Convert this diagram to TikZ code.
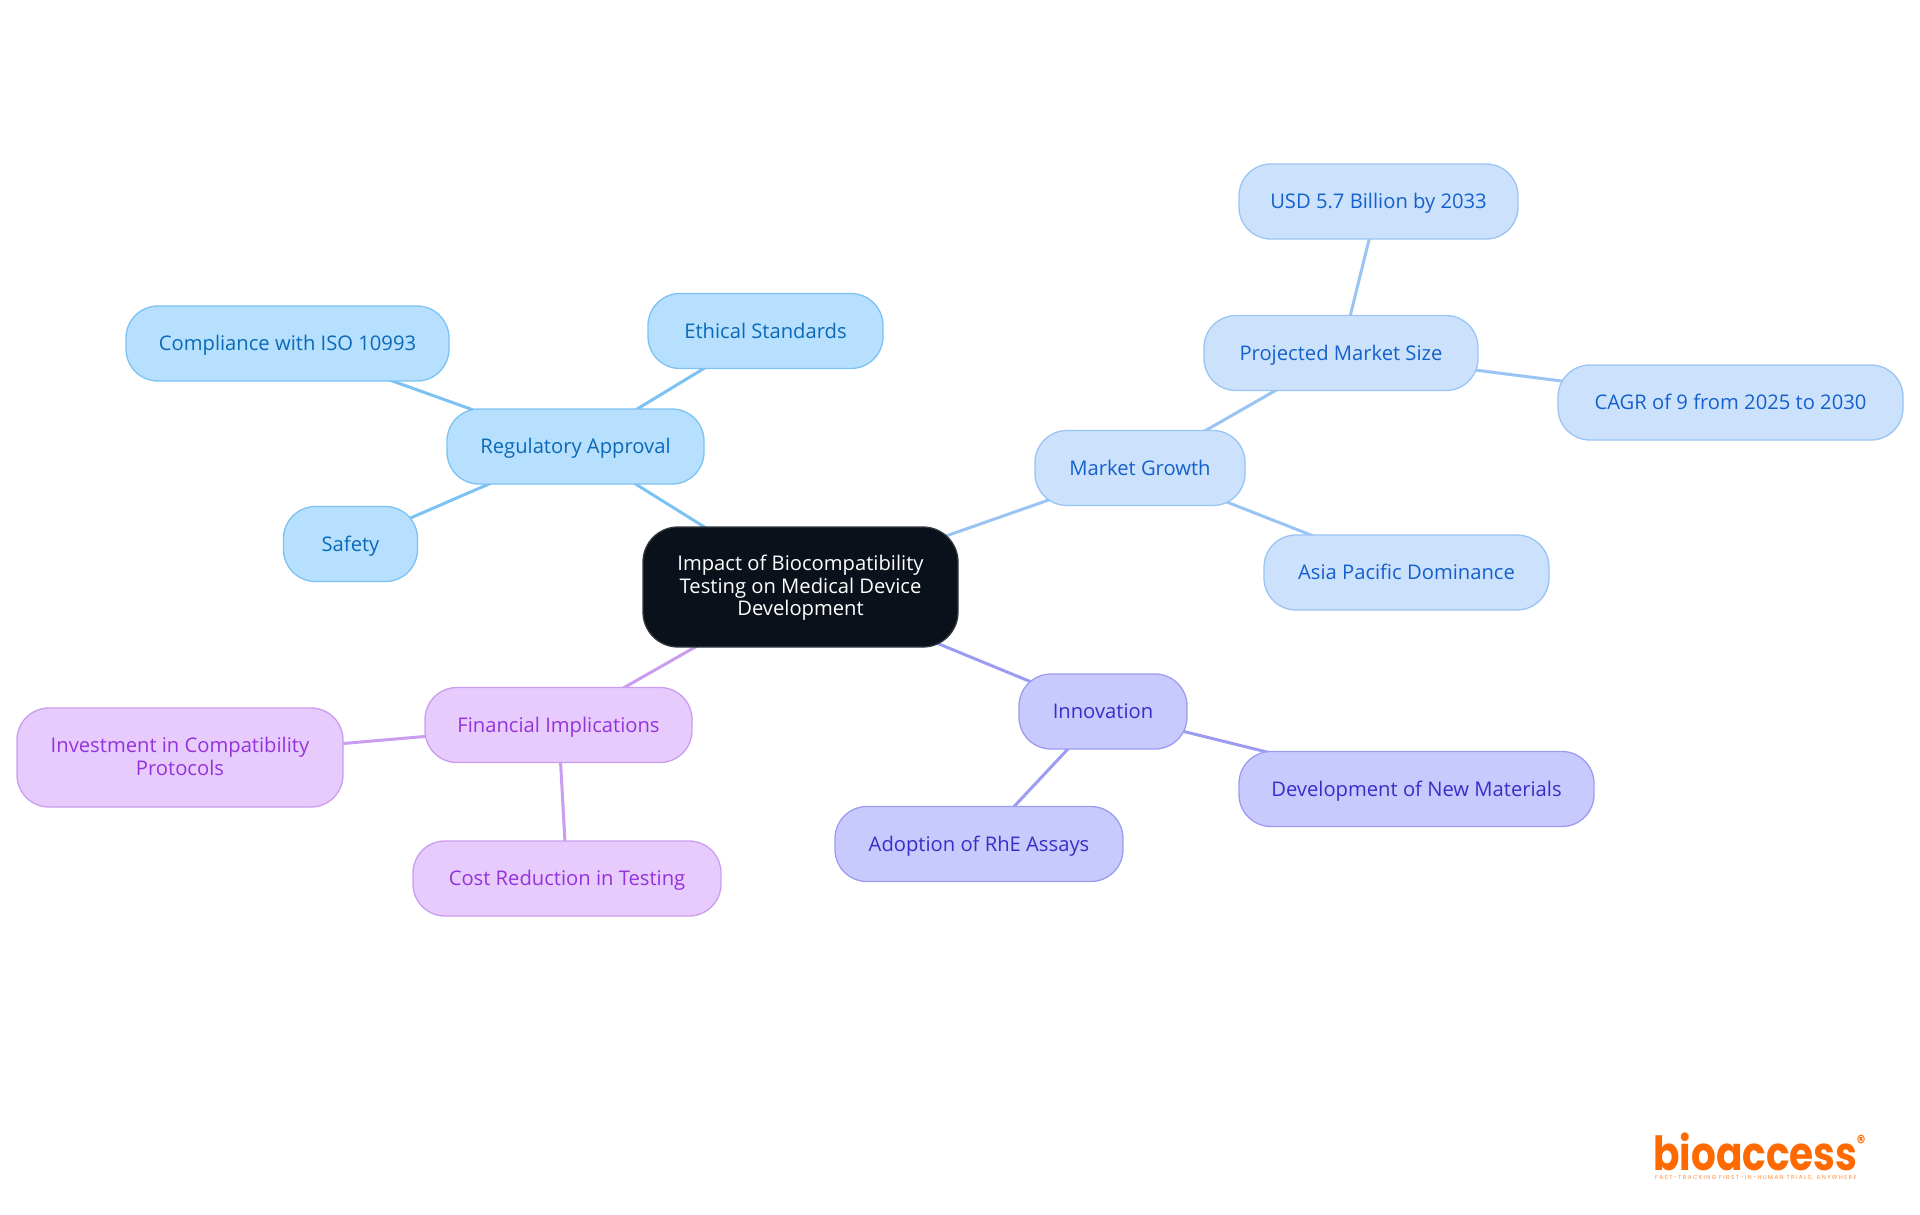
\documentclass[tikz,border=0pt]{standalone}
\usepackage{fontspec}
\setmainfont{Open Sans}
\newfontfamily\logofont[FakeStretch=0.83]{Poppins}
\newfontfamily\tagfont[LetterSpace=23]{Poppins}
\definecolor{rootfill}{HTML}{0A111A}
\definecolor{rootline}{HTML}{33383E}
\definecolor{bfill}{HTML}{B6E0FE}\definecolor{bline}{HTML}{7CC2F2}\definecolor{btext}{HTML}{0B69B7}
\definecolor{mfill}{HTML}{CCE2FC}\definecolor{mline}{HTML}{9AC4F4}\definecolor{mtext}{HTML}{1460CC}
\definecolor{ifill}{HTML}{C8CAFD}\definecolor{iline}{HTML}{9C9CF2}\definecolor{itext}{HTML}{3A2CC8}
\definecolor{ffill}{HTML}{E8CBFD}\definecolor{fline}{HTML}{CB9DF0}\definecolor{ftext}{HTML}{9333DC}
\definecolor{logoorange}{HTML}{FF6A00}
\tikzset{x=1pt,y=-1pt,
 basebox/.style={rounded corners=32pt,line width=1.3pt,inner sep=0pt,align=center,font=\fontsize{20.2}{22.5}\selectfont},
 single/.style={text height=16pt,text depth=2pt},
 rootbox/.style={basebox,fill=rootfill,draw=rootline,text=white,rounded corners=35pt},
 blueb/.style={basebox,fill=bfill,draw=bline,text=btext},
 marketb/.style={basebox,fill=mfill,draw=mline,text=mtext},
 innob/.style={basebox,fill=ifill,draw=iline,text=itext},
 finb/.style={basebox,fill=ffill,draw=fline,text=ftext},
 bedge/.style={draw=bline,line width=3pt},
 medge/.style={draw=mline,line width=3pt},
 iedge/.style={draw=iline,line width=3pt},
 fedge/.style={draw=fline,line width=3pt}}
\begin{document}
\begin{tikzpicture}
\useasboundingbox[fill=white] (0,0) rectangle (1920,1215);
\coordinate (croot) at (800.5,587);
\coordinate (creg) at (575.5,446.5);
\coordinate (ceth) at (765.5,331);
\coordinate (ccom) at (287.5,343.5);
\coordinate (csaf) at (350.5,544);
\coordinate (cmar) at (1140,468);
\coordinate (cpro) at (1341,353);
\coordinate (cusd) at (1378.5,201.5);
\coordinate (ccag) at (1730.5,402.5);
\coordinate (casi) at (1406.5,572.5);
\coordinate (cinn) at (1103,711.5);
\coordinate (cdev) at (1416.5,789);
\coordinate (cado) at (979,844);
\coordinate (cfin) at (558.5,725);
\coordinate (cinv) at (180,757.5);
\coordinate (ccos) at (567,878.5);
\draw[bedge] (croot)--(creg) (creg)--(ceth) (creg)--(ccom) (creg)--(csaf);
\draw[medge] (croot)--(cmar) (cmar)--(cpro) (cpro)--(cusd) (cpro)--(ccag) (cmar)--(casi);
\draw[iedge] (croot)--(cinn) (cinn)--(cdev) (cinn)--(cado);
\draw[fedge] (croot)--(cfin) (cfin)--(cinv) (cfin)--(ccos);
\node[rootbox,minimum width=315pt,minimum height=120pt] (root) at (croot) {\rule{0pt}{17.6pt}Impact of Biocompatibility\\Testing on Medical Device\\Development};
\node[blueb,single,minimum width=257pt,minimum height=75pt] (reg) at (creg) {Regulatory Approval};
\node[blueb,single,minimum width=235pt,minimum height=75pt] (eth) at (ceth) {Ethical Standards};
\node[blueb,single,minimum width=323pt,minimum height=75pt] (com) at (ccom) {Compliance with ISO 10993};
\node[blueb,single,minimum width=134pt,minimum height=75pt] (saf) at (csaf) {Safety};
\node[marketb,single,minimum width=210pt,minimum height=75pt] (mar) at (cmar) {Market Growth};
\node[marketb,single,minimum width=274pt,minimum height=75pt] (pro) at (cpro) {Projected Market Size};
\node[marketb,single,minimum width=279pt,minimum height=75pt] (usd) at (cusd) {USD 5.7 Billion by 2033};
\node[marketb,single,minimum width=345pt,minimum height=75pt] (cag) at (ccag) {CAGR of 9 from 2025 to 2030};
\node[marketb,single,minimum width=285pt,minimum height=75pt] (asi) at (casi) {Asia Pacific Dominance};
\node[innob,single,minimum width=168pt,minimum height=75pt] (inn) at (cinn) {Innovation};
\node[innob,single,minimum width=355pt,minimum height=75pt] (dev) at (cdev) {Development of New Materials};
\node[innob,single,minimum width=288pt,minimum height=75pt] (ado) at (cado) {Adoption of RhE Assays};
\node[finb,single,minimum width=267pt,minimum height=75pt] (fin) at (cfin) {Financial Implications};
\node[finb,minimum width=326pt,minimum height=99pt] (inv) at (cinv) {Investment in Compatibility\\Protocols\rule[-2.7pt]{0pt}{0pt}};
\node[finb,single,minimum width=308pt,minimum height=75pt] (cos) at (ccos) {Cost Reduction in Testing};
\node[anchor=base west,inner sep=0pt,text depth=0pt,text=logoorange,font=\logofont\bfseries\fontsize{47}{47}\selectfont] (logo) at (1653,1170) {bioaccess};
\node[anchor=center,inner sep=0pt,text=logoorange,font=\logofont\bfseries\fontsize{20}{20}\selectfont] (rmark) at (1861,1142) {®};
\node[anchor=base west,inner sep=0pt,text height=5pt,text=logoorange!75,font=\tagfont\fontsize{5.8}{6}\selectfont] (tag) at (1655,1179) {FAST-TRACKING FIRST-IN-HUMAN TRIALS, ANYWHERE};
\end{tikzpicture}
\end{document}
